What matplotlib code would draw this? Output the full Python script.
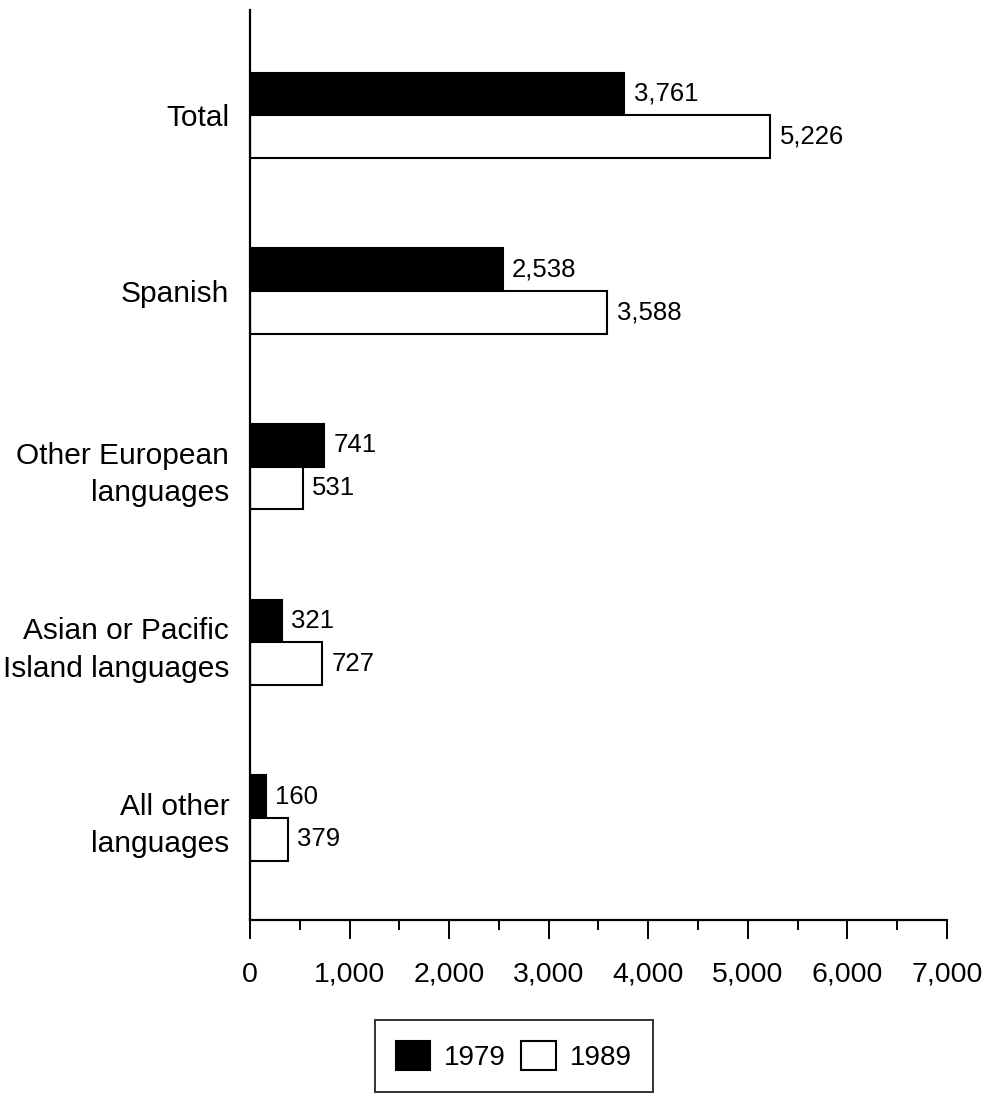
import numpy as np
import matplotlib.pyplot as plt
from matplotlib.ticker import MultipleLocator, FuncFormatter

plt.rcParams['font.family'] = ['Liberation Sans', 'DejaVu Sans']

categories = ["Total", "Spanish", "Other European\nlanguages",
              "Asian or Pacific\nIsland languages", "All other\nlanguages"]
vals_1979 = [3761, 2538, 741, 321, 160]
vals_1989 = [5226, 3588, 531, 727, 379]

fig = plt.figure(figsize=(9.92, 10.96), dpi=100)
ax = fig.add_axes([0.252, 0.1606, 0.7026, 0.8304])

y = np.arange(len(categories))
h = 0.243
ax.barh(y - h / 2, vals_1979, height=h, color='black', edgecolor='black',
        linewidth=1.5, label='1979')
ax.barh(y + h / 2, vals_1989, height=h, color='white', edgecolor='black',
        linewidth=1.5, label='1989')

# value labels just right of each bar
for yi, v in zip(y, vals_1979):
    ax.text(v + 95, yi - h / 2, f"{v:,}", va='center', ha='left', fontsize=18.5)
for yi, v in zip(y, vals_1989):
    ax.text(v + 95, yi + h / 2, f"{v:,}", va='center', ha='left', fontsize=18.5)

ax.set_xlim(0, 7000)
ax.set_ylim(4.58, -0.6)
ax.xaxis.set_major_locator(MultipleLocator(1000))
ax.xaxis.set_minor_locator(MultipleLocator(500))
ax.xaxis.set_major_formatter(FuncFormatter(lambda v, p: f"{int(v):,}"))
ax.tick_params(axis='x', which='major', length=14, width=1.4, pad=16,
               labelsize=20.5, direction='out')
ax.tick_params(axis='x', which='minor', length=7, width=1.4, direction='out')

ax.set_yticks(y)
ax.set_yticklabels(categories, fontsize=21.5, ha='right',
                   multialignment='right', linespacing=1.42)
ax.tick_params(axis='y', length=0, pad=15)

for side in ['top', 'right']:
    ax.spines[side].set_visible(False)
for side in ['left', 'bottom']:
    ax.spines[side].set_linewidth(1.6)

leg = fig.legend(loc='center', bbox_to_anchor=(0.518, 0.0365), ncol=2,
                 fontsize=20, frameon=True, fancybox=False, edgecolor='black',
                 handlelength=1.25, handleheight=1.25, columnspacing=0.55,
                 handletextpad=0.5, borderpad=0.75, borderaxespad=0)
leg.get_frame().set_linewidth(1.4)

fig.savefig('out.png', dpi=100)
